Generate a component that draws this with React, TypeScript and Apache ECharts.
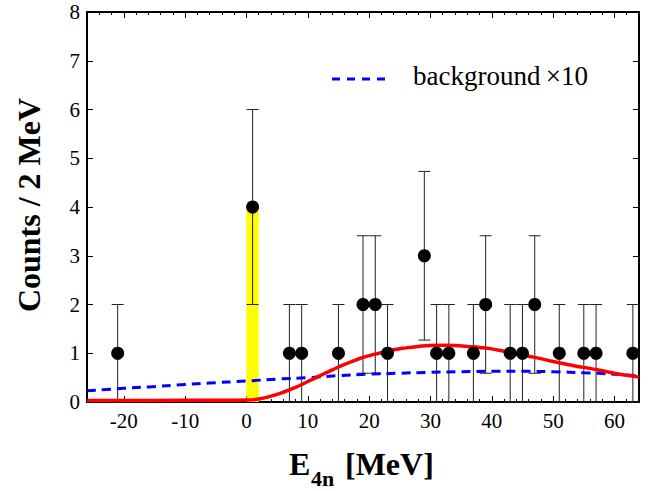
import React, { useEffect, useRef } from "react";
import * as echarts from "echarts";

// Histogram points (bin centres, 2 MeV bins)
const binCenters = [-21, 1, 7, 9, 15, 19, 21, 23, 29, 31, 33, 37, 39, 43, 45, 47, 51, 55, 57, 63];
const counts = [1, 4, 1, 1, 1, 2, 2, 1, 3, 1, 1, 1, 2, 1, 1, 2, 1, 1, 1, 1];
const errLow = [0, 2, 0, 0, 0, 0.59, 0.59, 0, 1.27, 0, 0, 0, 0.59, 0, 0, 0.59, 0, 0, 0, 0];
const errHigh = [2, 6, 2, 2, 2, 3.41, 3.41, 2, 4.73, 2, 2, 2, 3.41, 2, 2, 3.41, 2, 2, 2, 2];

// Highlighted bin: [from, to, height]
const yellowBand = [[0, 2, 4]];

// Fit curve (red)
const fitX = [-26, -20, -10, -4, 0, 2, 4, 6, 8, 10, 12, 14, 16, 18, 20, 22, 24, 26, 28, 30, 32, 34, 36, 38, 40, 42, 44, 46, 48, 50, 52, 54, 56, 58, 60, 62, 64];
const fitY = [0.03, 0.03, 0.035, 0.035, 0.04, 0.06, 0.12, 0.2, 0.3, 0.42, 0.54, 0.66, 0.77, 0.87, 0.95, 1.01, 1.07, 1.11, 1.14, 1.16, 1.165, 1.16, 1.14, 1.12, 1.09, 1.04, 0.99, 0.94, 0.89, 0.83, 0.78, 0.73, 0.69, 0.64, 0.59, 0.55, 0.51];

// Background x10 (blue dashed)
const bgX = [-26, -20, -16, -10, -6, 0, 5, 10, 15, 20, 25, 30, 35, 40, 45, 50, 55, 60, 64];
const bgY = [0.23, 0.28, 0.31, 0.36, 0.39, 0.43, 0.47, 0.5, 0.54, 0.57, 0.59, 0.61, 0.62, 0.63, 0.63, 0.62, 0.6, 0.57, 0.53];

const xRange = [-26, 64];
const yRange = [0, 8];

const legendLabel = "background\u2009×10";
const yTitle = "Counts / 2 MeV";

export default function App() {
  const ref = useRef<HTMLDivElement>(null);
  useEffect(() => {
    if (!ref.current) return;
    const chart = echarts.init(ref.current, null, { renderer: "svg" });
    const font = "'Liberation Serif', 'Times New Roman', serif";
    const axisLine = { show: true, onZero: false, lineStyle: { color: "#000", width: 2 } };
    const tick = { show: true, inside: true, length: 6, lineStyle: { color: "#000", width: 1 } };
    const minor = { show: true, splitNumber: 5, length: 3, lineStyle: { color: "#000", width: 1 } };
    const label = { fontSize: 21, lineHeight: 18, color: "#000", fontFamily: font };

    const xBase = {
      type: "value",
      min: xRange[0],
      max: xRange[1],
      splitNumber: 9,
      axisLine,
      axisTick: tick,
      minorTick: minor,
      splitLine: { show: false },
      minorSplitLine: { show: false },
    };
    const yBase = {
      type: "value",
      min: yRange[0],
      max: yRange[1],
      interval: 1,
      axisLine,
      axisTick: tick,
      splitLine: { show: false },
    };

    chart.setOption({
      animation: false,
      backgroundColor: "#fff",
      grid: { left: 87, right: 22, top: 12, bottom: 89, containLabel: false, outerBoundsMode: "none" },
      xAxis: [
        {
          ...xBase,
          position: "bottom",
          axisLabel: { ...label, margin: 10, showMinLabel: false, showMaxLabel: false },
        },
        { ...xBase, position: "top", axisLabel: { show: false } },
      ],
      yAxis: [
        { ...yBase, position: "left", axisLabel: { ...label, margin: 7 } },
        { ...yBase, position: "right", axisLabel: { show: false } },
      ],
      series: [
        {
          type: "custom",
          z: 1,
          data: yellowBand,
          encode: { x: [0, 1], y: 2 },
          renderItem: (params: any, api: any) => {
            const p0 = api.coord([api.value(0), 0]);
            const p1 = api.coord([api.value(1), api.value(2)]);
            return {
              type: "rect",
              shape: { x: p0[0], y: p1[1], width: p1[0] - p0[0], height: p0[1] - p1[1] },
              style: { fill: "#ffff00" },
            };
          },
        },
        {
          type: "custom",
          z: 2,
          data: binCenters.map((x, i) => [x, errLow[i], errHigh[i]]),
          encode: { x: 0, y: [1, 2] },
          renderItem: (params: any, api: any) => {
            const lo = api.coord([api.value(0), api.value(1)]);
            const hi = api.coord([api.value(0), api.value(2)]);
            const hw = 6;
            const st = { stroke: "#222", lineWidth: 1 };
            return {
              type: "group",
              children: [
                { type: "line", shape: { x1: lo[0], y1: lo[1], x2: hi[0], y2: hi[1] }, style: st },
                { type: "line", shape: { x1: hi[0] - hw, y1: hi[1], x2: hi[0] + hw, y2: hi[1] }, style: st },
                { type: "line", shape: { x1: lo[0] - hw, y1: lo[1], x2: lo[0] + hw, y2: lo[1] }, style: st },
              ],
            };
          },
        },
        {
          type: "line",
          name: legendLabel,
          z: 3,
          smooth: true,
          symbol: "none",
          data: bgX.map((x, i) => [x, bgY[i]]),
          lineStyle: { color: "#0000ff", width: 3, type: [9, 6] },
        },
        {
          type: "line",
          name: "fit",
          z: 4,
          smooth: true,
          symbol: "none",
          data: fitX.map((x, i) => [x, fitY[i]]),
          lineStyle: { color: "#ff0000", width: 3.5 },
        },
        {
          type: "scatter",
          name: "data",
          z: 5,
          symbol: "circle",
          symbolSize: 13,
          itemStyle: { color: "#000", opacity: 1 },
          data: binCenters.map((x, i) => [x, counts[i]]),
        },
      ],
      graphic: [
        {
          type: "text",
          x: 29,
          y: 205,
          rotation: Math.PI / 2,
          style: { text: yTitle, font: `bold 32px ${font}`, align: "center", verticalAlign: "middle", fill: "#000" },
        },
        {
          type: "text",
          x: 289,
          y: 464,
          style: { text: "E", font: `bold 32px ${font}`, align: "left", verticalAlign: "middle", fill: "#000" },
        },
        {
          type: "text",
          x: 311,
          y: 478,
          style: { text: "4n", font: `bold 22px ${font}`, align: "left", verticalAlign: "middle", fill: "#000" },
        },
        {
          type: "text",
          x: 345,
          y: 464,
          style: { text: "[MeV]", font: `bold 32px ${font}`, align: "left", verticalAlign: "middle", fill: "#000" },
        },
        {
          type: "line",
          shape: { x1: 332, y1: 79, x2: 390, y2: 79 },
          style: { stroke: "#0000ff", lineWidth: 3, lineDash: [8, 7] },
        },
        {
          type: "text",
          x: 413,
          y: 76,
          style: { text: legendLabel, font: `27px ${font}`, align: "left", verticalAlign: "middle", fill: "#000" },
        },
      ],
    });
    return () => chart.dispose();
  }, []);
  return <div ref={ref} style={{ position: "absolute", left: 0, top: 0, width: 661, height: 491 }} />;
}
